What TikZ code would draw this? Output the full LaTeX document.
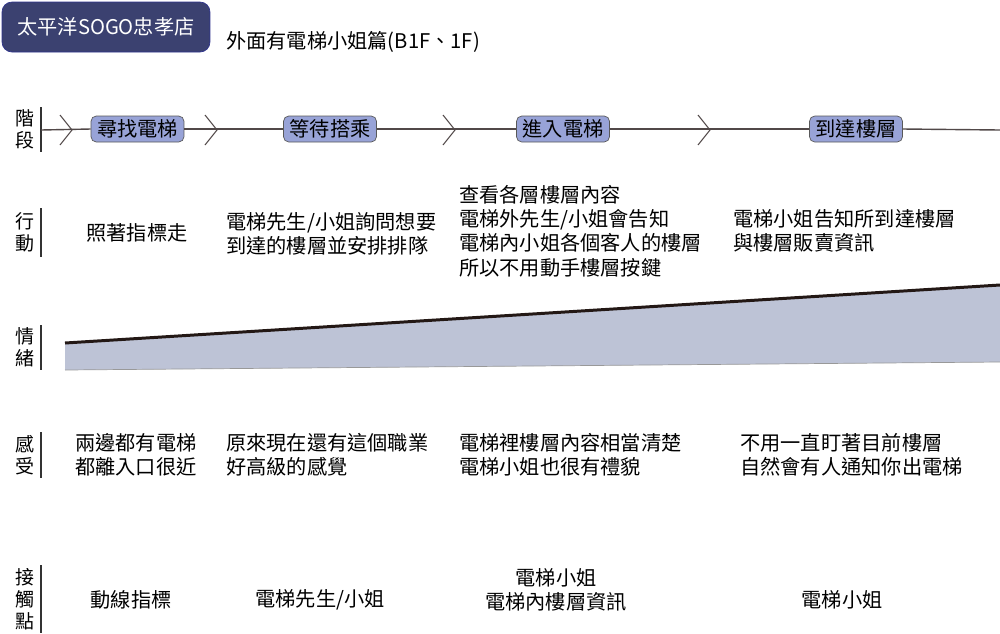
\documentclass[tikz,border=0pt]{standalone}
\usepackage{fontspec}
\setmainfont{Noto Sans CJK TC}
\usetikzlibrary{positioning}
\definecolor{navy}{HTML}{3B4170}
\definecolor{stagefill}{HTML}{98A3D7}
\definecolor{moodfill}{HTML}{BDC3D6}
\definecolor{axis}{HTML}{514848}
\definecolor{ink}{HTML}{231815}
\tikzstyle{stagebox} = [rectangle, rounded corners=3pt, draw=black!65, fill=stagefill,
                        minimum width=1.86cm, minimum height=0.52cm, inner sep=0pt,
                        font=\fontsize{11.5}{13}\selectfont]
\tikzstyle{rowlabel} = [align=center, inner sep=0pt, font=\fontsize{10.8}{12.5}\selectfont]
\tikzstyle{line}     = [axis, line width=0.8pt]

\begin{document}
\begin{tikzpicture}[x=0.02cm, y=-0.02cm,
    txt/.style={align=left, inner sep=0pt, font=\fontsize{11.5}{13.8}\selectfont},
    chev/.style={axis, line width=0.6pt},
    bar/.style={black!80, line width=0.6pt}]

  \useasboundingbox (0,0) rectangle (1000,633);

  % header
  \node[rectangle, rounded corners=0.2cm, draw=navy!80!blue, fill=navy, text=white,
        minimum width=4.16cm, minimum height=1.0cm, inner sep=0pt,
        font=\fontsize{11.5}{13}\selectfont] (title) at (106,27) {太平洋SOGO忠孝店};
  \node[txt, anchor=west] (sub) at (226,42) {外面有電梯小姐篇(B1F、1F)};

  % row labels
  \node[rowlabel] (lstage) at (25,129) {階\\段};
  \node[rowlabel] (lact)   at (25,232) {行\\動};
  \node[rowlabel] (lmood)  at (25,347) {情\\緒};
  \node[rowlabel] (lfeel)  at (25,455) {感\\受};
  \node[rowlabel] (ltouch) at (25,599) {接\\觸\\點};
  \draw[bar] (41,107) -- (41,152);
  \draw[bar] (41,208) -- (41,257);
  \draw[bar] (41,325) -- (41,370);
  \draw[bar] (41,432) -- (41,478);
  \draw[bar] (41,565) -- (41,633);

  % stages
  \coordinate (s0) at (41,130);
  \coordinate (s9) at (1000,130);
  \node[stagebox] (find)   at (137.5,129) {尋找電梯};
  \node[stagebox] (wait)   at (330,129)   {等待搭乘};
  \node[stagebox] (enter)  at (563,129)   {進入電梯};
  \node[stagebox] (arrive) at (856,129)   {到達樓層};
  \draw[line] (s0) -- (find.west);
  \draw[line] (find.east) -- (wait.west);
  \draw[line] (wait.east) -- (enter.west);
  \draw[line] (enter.east) -- (arrive.west);
  \draw[line] (arrive.east) -- (s9);
  \foreach \x in {72,217,455,710}
    \draw[chev] (\x-12,115) -- (\x,130) -- (\x-12,145);

  % actions
  \node[txt] (act1) at (137,233) {照著指標走};
  \node[txt, anchor=west] (act2) at (226,233.5) {電梯先生/小姐詢問想要\\到達的樓層並安排排隊};
  \node[txt, anchor=west] (act3) at (459,231) {查看各層樓層內容\\電梯外先生/小姐會告知\\電梯內小姐各個客人的樓層\\所以不用動手樓層按鍵};
  \node[txt, anchor=west] (act4) at (733,230.5) {電梯小姐告知所到達樓層\\與樓層販賣資訊};

  % mood
  \fill[moodfill] (65,343) -- (1000,285) -- (1000,362) -- (65,370) -- cycle;
  \draw[gray!80, line width=0.4pt] (65,370) -- (1000,362);
  \draw[ink, line width=1.7pt] (65,343) -- (1000,285);

  % feelings
  \node[txt, anchor=west] (feel1) at (75,455)  {兩邊都有電梯\\都離入口很近};
  \node[txt, anchor=west] (feel2) at (226,455) {原來現在還有這個職業\\好高級的感覺};
  \node[txt, anchor=west] (feel3) at (459,455) {電梯裡樓層內容相當清楚\\電梯小姐也很有禮貌};
  \node[txt, anchor=west] (feel4) at (740,455) {不用一直盯著目前樓層\\自然會有人通知你出電梯};

  % touch points
  \node[txt] (touch1) at (131,600) {動線指標};
  \node[txt] (touch2) at (320,600) {電梯先生/小姐};
  \node[txt, align=center] (touch3) at (556,590) {電梯小姐\\電梯內樓層資訊};
  \node[txt] (touch4) at (842,600) {電梯小姐};
\end{tikzpicture}
\end{document}
